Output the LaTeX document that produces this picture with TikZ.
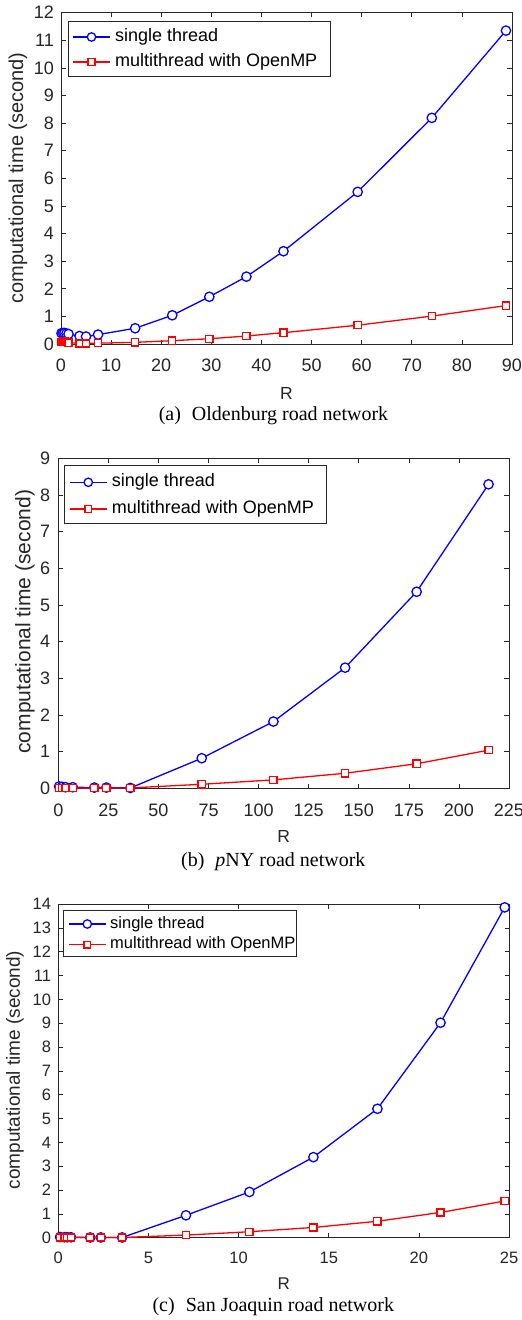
\documentclass[tikz,border=0pt]{standalone}
\usepackage{fontspec}
\setmainfont{Liberation Serif}
\setsansfont{Liberation Sans}
\definecolor{axgray}{RGB}{38,38,38}
\definecolor{leggray}{RGB}{38,38,38}
\tikzset{
  tickline/.style={draw=axgray, line width=0.6pt},
  axisframe/.style={draw=axgray, line width=0.7pt},
  legframe/.style={draw=leggray, fill=white, line width=0.7pt},
  bluecurve/.style={draw=blue, line width=1.3pt, line join=round},
  redcurve/.style={draw=red, line width=1.3pt, line join=round},
  circmark/.style={draw=blue, fill=white, line width=1.3pt},
  sqmark/.style={draw=red, fill=white, line width=1.3pt},
  tlA/.style={text=axgray, inner sep=0pt, font=\sffamily\fontsize{18}{18}\selectfont},
  tlC/.style={text=axgray, inner sep=0pt, font=\sffamily\fontsize{16.5}{16.5}\selectfont},
  legtxt/.style={anchor=west, inner sep=0pt, text=black},
  captxt/.style={inner sep=0pt, font=\rmfamily\fontsize{20}{20}\selectfont},
}
\newcommand{\circm}[1]{\draw[circmark] (#1) circle[radius=4.7pt];}
\newcommand{\sqm}[1]{\draw[sqmark] (#1) ++(-3.6pt,-3.6pt) rectangle ++(7.2pt,7.2pt);}
\newcommand{\circl}[1]{\draw[circmark] (#1) circle[radius=4.2pt];}
\newcommand{\sql}[1]{\draw[sqmark] (#1) ++(-3.4pt,-3.4pt) rectangle ++(6.8pt,6.8pt);}
\begin{document}
\begin{tikzpicture}[x=1pt,y=-1pt]
\useasboundingbox (0,0) rectangle (522,1320);
\fill[white] (0,0) rectangle (522,1320);

%%%%%%%%%%%%%%%%%%%% (a)
\begin{scope}[shift={(61pt,-344pt)}, x={(5.011pt,0pt)}, y={(0pt,27.61pt)}]
  \draw[axisframe] (0,0) rectangle (90,12);
  \foreach \t in {0,10,...,90} {
    \draw[tickline] (\t,0) -- ++(0,4.5pt);
    \draw[tickline] (\t,12) -- ++(0,-4.5pt);
    \node[tlA] at ([yshift=-21.7pt]\t,0) {\t};
  }
  \foreach \t in {0,...,12} {
    \draw[tickline] (0,\t) -- ++(4.5pt,0);
    \draw[tickline] (90,\t) -- ++(-4.5pt,0);
    \node[tlA, anchor=east] at ([xshift=-7pt]0,\t) {\t};
  }
  \draw[bluecurve] plot coordinates {(0.1,0.39) (0.4,0.40) (0.7,0.40) (1.1,0.38) (1.5,0.36) (3.7,0.29) (5,0.27) (7.4,0.34) (14.8,0.57) (22.2,1.04) (29.6,1.71) (37,2.44) (44.4,3.36) (59.2,5.51) (74,8.19) (88.8,11.35)};
  \foreach \p in {{0.1,0.39},{0.4,0.40},{0.7,0.40},{1.1,0.38},{1.5,0.36},{3.7,0.29},{5,0.27},{7.4,0.34},{14.8,0.57},{22.2,1.04},{29.6,1.71},{37,2.44},{44.4,3.36},{59.2,5.51},{74,8.19},{88.8,11.35}} {\circm{\p}}
  \draw[redcurve] plot coordinates {(0.1,0.08) (0.4,0.09) (0.7,0.09) (1.1,0.07) (1.5,0.05) (3.7,0.02) (5,0.02) (7.4,0.03) (14.8,0.06) (22.2,0.12) (29.6,0.19) (37,0.29) (44.4,0.41) (59.2,0.68) (74,1.01) (88.8,1.39)};
  \foreach \p in {{0.1,0.08},{0.4,0.09},{0.7,0.09},{1.1,0.07},{1.5,0.05},{3.7,0.02},{5,0.02},{7.4,0.03},{14.8,0.06},{22.2,0.12},{29.6,0.19},{37,0.29},{44.4,0.41},{59.2,0.68},{74,1.01},{88.8,1.39}} {\sqm{\p}}
\end{scope}
\draw[legframe] (68,21.7) rectangle (330,76);
\coordinate (la1) at (73,37); \coordinate (la2) at (110,37);
\coordinate (lb1) at (73,62); \coordinate (lb2) at (110,62);
\draw[bluecurve] (la1) -- (la2); \circl{91.5,37}
\draw[redcurve] (lb1) -- (lb2); \sql{91.5,62}
\node[legtxt, font=\sffamily\fontsize{18}{18}\selectfont] (ta1) at (115,37) {single thread};
\node[legtxt, font=\sffamily\fontsize{18}{18}\selectfont] (ta2) at (115,62) {multithread with OpenMP};
\node[text=axgray, font=\sffamily\fontsize{17.5}{17.5}\selectfont] (xa) at (286.5,393) {R};
\node[text=axgray, rotate=90, font=\sffamily\fontsize{20}{20}\selectfont] (ya) at (18,178) {computational time (second)};
\node[captxt] (ca) at (273.5,416) {(a)\hspace{0.55em}Oldenburg road network};

%%%%%%%%%%%%%%%%%%%% (b)
\begin{scope}[shift={(58.3pt,-788.3pt)}, x={(2.003pt,0pt)}, y={(0pt,36.67pt)}]
  \draw[axisframe] (0,0) rectangle (225,9);
  \foreach \t in {0,25,...,225} {
    \draw[tickline] (\t,0) -- ++(0,4.5pt);
    \draw[tickline] (\t,9) -- ++(0,-4.5pt);
    \node[tlA] at ([yshift=-21.7pt]\t,0) {\t};
  }
  \foreach \t in {0,...,9} {
    \draw[tickline] (0,\t) -- ++(4.5pt,0);
    \draw[tickline] (225,\t) -- ++(-4.5pt,0);
    \node[tlA, anchor=east] at ([xshift=-8pt]0,\t) {\t};
  }
  \draw[bluecurve] plot coordinates {(0.4,0.05) (1.8,0.04) (3.6,0.03) (7.2,0.03) (18,0.02) (24,0.02) (36,0.01) (71.6,0.82) (107.4,1.82) (143.2,3.29) (178.9,5.36) (214.8,8.29)};
  \foreach \p in {{0.4,0.05},{1.8,0.04},{3.6,0.03},{7.2,0.03},{18,0.02},{24,0.02},{36,0.01},{71.6,0.82},{107.4,1.82},{143.2,3.29},{178.9,5.36},{214.8,8.29}} {\circm{\p}}
  \draw[redcurve] plot coordinates {(0.4,0.01) (1.8,0.01) (3.6,0.01) (7.2,0.01) (18,0.01) (24,0.01) (36,0.01) (71.6,0.11) (107.4,0.23) (143.2,0.41) (178.9,0.67) (214.8,1.04)};
  \foreach \p in {{0.4,0.01},{1.8,0.01},{3.6,0.01},{7.2,0.01},{18,0.01},{24,0.01},{36,0.01},{71.6,0.11},{107.4,0.23},{143.2,0.41},{178.9,0.67},{214.8,1.04}} {\sqm{\p}}
\end{scope}
\draw[legframe] (64.3,465) rectangle (326.7,523.3);
\coordinate (lc1) at (70,482.3); \coordinate (lc2) at (106.7,482.3);
\coordinate (ld1) at (70,509); \coordinate (ld2) at (106.7,509);
\draw[bluecurve] (lc1) -- (lc2); \circl{88.3,482.3}
\draw[redcurve] (ld1) -- (ld2); \sql{88.3,509}
\node[legtxt, font=\sffamily\fontsize{18}{18}\selectfont] (tb1) at (111.7,482.3) {single thread};
\node[legtxt, font=\sffamily\fontsize{18}{18}\selectfont] (tb2) at (111.7,509) {multithread with OpenMP};
\node[text=axgray, font=\sffamily\fontsize{17.5}{17.5}\selectfont] (xb) at (283.7,836.7) {R};
\node[text=axgray, rotate=90, font=\sffamily\fontsize{21}{21}\selectfont] (yb) at (25,621.7) {computational time (second)};
\node[captxt] (cb) at (273.3,861.7) {(b)\hspace{0.55em}\textit{p}NY road network};

%%%%%%%%%%%%%%%%%%%% (c)
\begin{scope}[shift={(58.3pt,-1237.7pt)}, x={(18.03pt,0pt)}, y={(0pt,23.835pt)}]
  \draw[axisframe] (0,0) rectangle (25,14);
  \foreach \t in {0,5,...,25} {
    \draw[tickline] (\t,0) -- ++(0,4.5pt);
    \draw[tickline] (\t,14) -- ++(0,-4.5pt);
    \node[tlC] at ([yshift=-20.6pt]\t,0) {\t};
  }
  \foreach \t in {0,...,14} {
    \draw[tickline] (0,\t) -- ++(4.5pt,0);
    \draw[tickline] (25,\t) -- ++(-4.5pt,0);
    \node[tlC, anchor=east] at ([xshift=-7pt]0,\t) {\t};
  }
  \draw[bluecurve] plot coordinates {(0.1,0.03) (0.35,0.02) (0.5,0.02) (0.7,0.02) (1.77,0.01) (2.36,0.01) (3.54,0.01) (7.08,0.94) (10.6,1.92) (14.15,3.38) (17.7,5.41) (21.2,9.02) (24.76,13.86)};
  \foreach \p in {{0.1,0.03},{0.35,0.02},{0.5,0.02},{0.7,0.02},{1.77,0.01},{2.36,0.01},{3.54,0.01},{7.08,0.94},{10.6,1.92},{14.15,3.38},{17.7,5.41},{21.2,9.02},{24.76,13.86}} {\circm{\p}}
  \draw[redcurve] plot coordinates {(0.1,0.01) (0.35,0.01) (0.5,0.01) (0.7,0.01) (1.77,0.01) (2.36,0.01) (3.54,0.01) (7.08,0.11) (10.6,0.25) (14.15,0.43) (17.7,0.69) (21.2,1.06) (24.76,1.54)};
  \foreach \p in {{0.1,0.01},{0.35,0.01},{0.5,0.01},{0.7,0.01},{1.77,0.01},{2.36,0.01},{3.54,0.01},{7.08,0.11},{10.6,0.25},{14.15,0.43},{17.7,0.69},{21.2,1.06},{24.76,1.54}} {\sqm{\p}}
\end{scope}
\draw[legframe] (63.3,910.7) rectangle (296.7,956.3);
\coordinate (le1) at (69,924); \coordinate (le2) at (105.7,924);
\coordinate (lf1) at (69,944.7); \coordinate (lf2) at (105.7,944.7);
\draw[bluecurve] (le1) -- (le2); \circl{87.3,924}
\draw[redcurve] (lf1) -- (lf2); \sql{87.3,944.7}
\node[legtxt, font=\sffamily\fontsize{16.5}{16.5}\selectfont] (tc1) at (110,924) {single thread};
\node[legtxt, font=\sffamily\fontsize{16.5}{16.5}\selectfont] (tc2) at (110,944.7) {multithread with OpenMP};
\node[text=axgray, font=\sffamily\fontsize{17}{17}\selectfont] (xc) at (283.7,1283.3) {R};
\node[text=axgray, rotate=90, font=\sffamily\fontsize{19}{19}\selectfont] (yc) at (15,1070) {computational time (second)};
\node[captxt] (cc) at (273.3,1306.7) {(c)\hspace{0.55em}San Joaquin road network};
\end{tikzpicture}
\end{document}
